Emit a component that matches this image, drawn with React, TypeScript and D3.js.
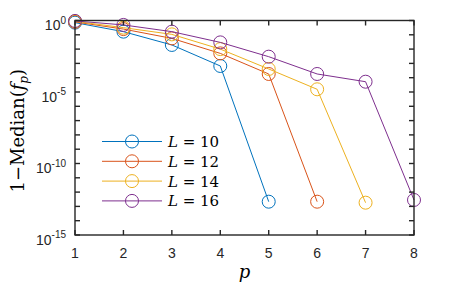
import React, { useEffect, useRef } from 'react';
import * as d3 from 'd3';

// exponents (log10 of 1 - Median(f_p))
const pValues = [1, 2, 3, 4, 5, 6, 7, 8];
const seriesNames = ['L = 10', 'L = 12', 'L = 14', 'L = 16'];
const sizes = [10, 12, 14, 16];
const logL10 = [-0.15, -0.78, -1.71, -3.18, -12.67];
const logL12 = [-0.1, -0.6, -1.25, -2.3, -3.74, -12.67];
const logL14 = [-0.06, -0.5, -0.97, -2.0, -3.39, -4.81, -12.74];
const logL16 = [-0.03, -0.31, -0.78, -1.53, -2.53, -3.74, -4.28, -12.55];
const colors = ['#0072BD', '#D95319', '#EDB120', '#7E2F8E'];
const yTickExps = [0, -5, -10, -15];

export default function App() {
  const ref = useRef<SVGSVGElement>(null);

  useEffect(() => {
    const svg = d3.select(ref.current);
    svg.selectAll('*').remove();

    const margin = { top: 20.5, right: 43, bottom: 55, left: 75 };
    const W = 457, H = 290;
    const w = W - margin.left - margin.right;
    const h = H - margin.top - margin.bottom;

    const x = d3.scaleLinear().domain([1, 8]).range([margin.left, margin.left + w]);
    const y = d3.scaleLog().domain([1, 1e-15]).range([margin.top, margin.top + h]);

    const axisColor = '#262626';
    const tickLen = 5;

    const series = [logL10, logL12, logL14, logL16].map((arr, i) => ({
      name: seriesNames[i],
      L: sizes[i],
      color: colors[i],
      pts: arr.map((e, j) => ({ p: pValues[j], v: Math.pow(10, e) })),
    }));

    const plot = svg.append('g');
    const line = d3.line<{ p: number; v: number }>().x(d => x(d.p)).y(d => y(d.v));

    series.forEach(s => {
      plot.append('path').attr('d', line(s.pts)).attr('fill', 'none')
        .attr('stroke', s.color).attr('stroke-width', 1);
      plot.selectAll(null).data(s.pts).join('circle')
        .attr('cx', d => x(d.p)).attr('cy', d => y(d.v)).attr('r', 6.5)
        .attr('fill', 'none').attr('stroke', s.color).attr('stroke-width', 1);
    });

    // box
    const axes = svg.append('g').attr('stroke', axisColor).attr('stroke-width', 1.4);
    axes.append('rect').attr('x', margin.left).attr('y', margin.top)
      .attr('width', w).attr('height', h).attr('fill', 'none');

    pValues.forEach(p => {
      axes.append('line').attr('x1', x(p)).attr('x2', x(p))
        .attr('y1', margin.top + h).attr('y2', margin.top + h - tickLen);
      axes.append('line').attr('x1', x(p)).attr('x2', x(p))
        .attr('y1', margin.top).attr('y2', margin.top + tickLen);
    });
    d3.range(0, -16, -1).forEach(e => {
      const yy = y(Math.pow(10, e));
      axes.append('line').attr('x1', margin.left).attr('x2', margin.left + tickLen)
        .attr('y1', yy).attr('y2', yy);
      axes.append('line').attr('x1', margin.left + w).attr('x2', margin.left + w - tickLen)
        .attr('y1', yy).attr('y2', yy);
    });

    const sans = 'Liberation Sans, Arial, sans-serif';
    pValues.forEach(p => {
      svg.append('text').attr('x', x(p)).attr('y', margin.top + h + 23)
        .attr('text-anchor', 'middle').attr('font-family', sans).attr('font-size', 14)
        .attr('fill', axisColor).text(p);
    });
    yTickExps.forEach(e => {
      const yy = y(Math.pow(10, e));
      const t = svg.append('text').attr('x', margin.left - 9).attr('y', yy + 9.5)
        .attr('text-anchor', 'end').attr('font-family', sans).attr('font-size', 14)
        .attr('fill', axisColor);
      t.append('tspan').text('10');
      t.append('tspan').attr('dy', -6.5).attr('font-size', 10).text(String(e));
    });

    const serif = 'DejaVu Serif, Liberation Serif, serif';
    svg.append('text').attr('x', x(4.5)).attr('y', H - 12)
      .attr('text-anchor', 'middle').attr('font-family', serif).attr('font-style', 'italic')
      .attr('font-size', 18).attr('fill', '#000').text('p');

    const yl = svg.append('text').attr('transform', `translate(24,${margin.top + h / 2 + 3}) rotate(-90)`)
      .attr('text-anchor', 'middle').attr('font-family', serif).attr('font-size', 18)
      .attr('fill', '#000');
    yl.append('tspan').text('1−Median(');
    yl.append('tspan').attr('font-style', 'italic').text('f');
    yl.append('tspan').attr('font-style', 'italic').attr('font-size', 12).attr('dy', 4).text('p');
    yl.append('tspan').attr('dy', -4).text(')');

    // legend
    const lg = svg.append('g');
    series.forEach((s, i) => {
      const yy = 141.5 + i * 19.8;
      lg.append('line').attr('x1', 102).attr('x2', 162).attr('y1', yy).attr('y2', yy)
        .attr('stroke', s.color).attr('stroke-width', 1);
      lg.append('circle').attr('cx', 132).attr('cy', yy).attr('r', 6.5)
        .attr('fill', 'none').attr('stroke', s.color).attr('stroke-width', 1);
      const t = lg.append('text').attr('x', 168).attr('y', yy + 5.5)
        .attr('font-family', serif).attr('font-size', 15).attr('fill', '#000');
      t.append('tspan').attr('font-style', 'italic').text('L');
      t.append('tspan').text(` = ${s.L}`);
    });
  }, []);

  return <svg ref={ref} width={457} height={290} style={{ display: 'block', margin: -8, background: '#fff' }} />;
}
